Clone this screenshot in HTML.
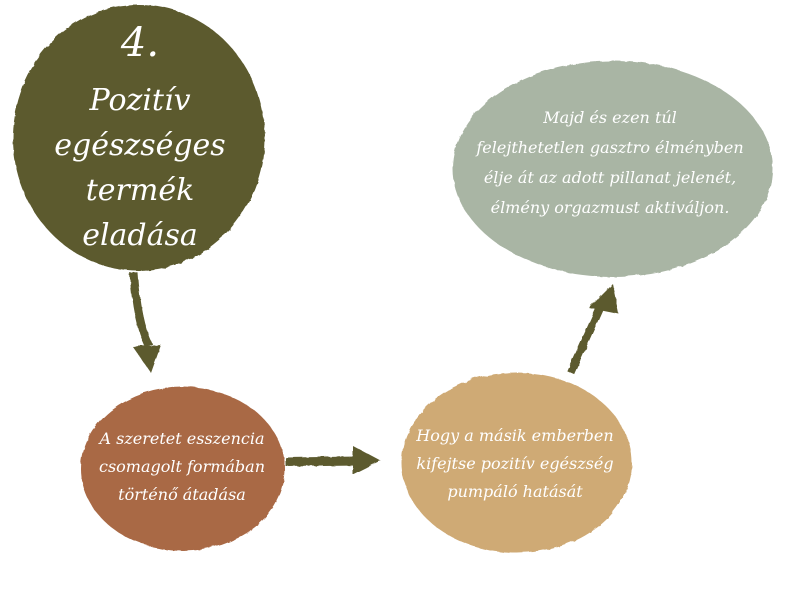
<!DOCTYPE html>
<html><head><meta charset="utf-8"><style>
html,body{margin:0;padding:0;background:#fff;}
body{width:800px;height:600px;position:relative;overflow:hidden;font-family:"DejaVu Serif","Liberation Serif",serif;font-style:italic;color:#fff;}
.t{position:absolute;text-align:center;}
</style></head><body>
<svg width="800" height="600" style="position:absolute;left:0;top:0">
<defs><filter id="r"><feTurbulence baseFrequency="0.06" numOctaves="2" result="n"/><feDisplacementMap in="SourceGraphic" in2="n" scale="3"/></filter></defs>
<g filter="url(#r)">
<ellipse cx="138" cy="137" rx="126" ry="133" fill="#5b5a2e"/>
<ellipse cx="612" cy="168" rx="160" ry="108" fill="#a9b5a4"/>
<ellipse cx="182" cy="468" rx="102" ry="82" fill="#a96945"/>
<ellipse cx="516" cy="462" rx="115" ry="90" fill="#cfaa74"/>
<path d="M133 272 Q136 320 148 345" stroke="#5b5a2e" stroke-width="8" fill="none"/>
<polygon points="132,346 160,344 150,372" fill="#5b5a2e"/>
<path d="M285 461 L358 460" stroke="#5b5a2e" stroke-width="9" fill="none"/>
<polygon points="352,445 380,460 352,474" fill="#5b5a2e"/>
<path d="M570 372 L600 305" stroke="#5b5a2e" stroke-width="8" fill="none"/>
<polygon points="588,307 612,283 618,313" fill="#5b5a2e"/>
</g>
</svg>
<div class="t" style="left:40px;top:18px;width:200px;font-size:40px;line-height:50px">4.</div>
<div class="t" style="left:40px;top:78px;width:200px;font-size:30px;line-height:45px">Pozitív<br>egészséges<br>termék<br>eladása</div>
<div class="t" style="left:440px;top:103px;width:340px;font-size:16px;line-height:30px">Majd és ezen túl<br>felejthetetlen gasztro élményben<br>élje át az adott pillanat jelenét,<br>élmény orgazmust aktiváljon.</div>
<div class="t" style="left:80px;top:425px;width:204px;font-size:16px;line-height:28px">A szeretet esszencia<br>csomagolt formában<br>történő átadása</div>
<div class="t" style="left:400px;top:422px;width:230px;font-size:16px;line-height:28px">Hogy a másik emberben<br>kifejtse pozitív egészség<br>pumpáló hatását</div>
</body></html>
